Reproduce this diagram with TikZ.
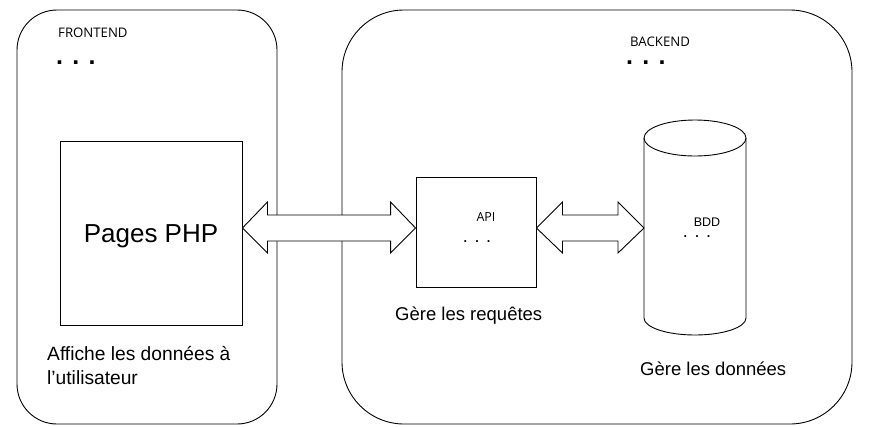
\documentclass[tikz,border=0pt]{standalone}
\usepackage{fontspec}
\setmainfont{Liberation Sans}
\newfontfamily\osans{Open Sans}
\usetikzlibrary{calc}
\tikzset{
  ln/.style={line width=0.9pt, draw=black},
  zone/.style={ln, fill=white},
  boxx/.style={ln, rectangle, inner sep=0pt},
  lbl/.style={anchor=west, inner sep=0pt, font=\fontsize{18.5}{24}\selectfont, align=left},
  small/.style={inner sep=0pt, font=\osans\fontsize{13.2}{14}\selectfont},
  bigdots/.style={anchor=west, inner sep=0pt, text height=4pt, text depth=0pt, font=\bfseries\fontsize{25}{25}\selectfont},
  smalldots/.style={inner sep=0pt, text height=3pt, text depth=0pt, font=\fontsize{18}{18}\selectfont},
}
\begin{document}
\begin{tikzpicture}[x=1pt,y=-1pt]
\useasboundingbox[fill=white] (0,0) rectangle (870,426);
% zones
\draw[zone, rounded corners=40pt] (17,10) rectangle (277,424);
\draw[zone, rounded corners=62pt] (342,10) rectangle (852,424);
\node[small, anchor=west] (fe) at (58,33) {FRONTEND};
\node[bigdots] (fedots) at (56,62) {. . .};
\node[small, anchor=west] (be) at (630,42) {BACKEND};
\node[bigdots] (bedots) at (626,62) {. . .};
% boxes
\node[boxx, minimum width=182pt, minimum height=184pt] (php) at (151,233) {};
\node[inner sep=0pt, font=\fontsize{26}{26}\selectfont] (phpt) at (151,236) {Pages PHP};
\node[boxx, minimum width=120pt, minimum height=110pt] (api) at (476,232) {};
\node[small, font=\osans\fontsize{12.5}{13}\selectfont] (apit) at (486,217) {API};
\node[smalldots] (apidots) at (477,240.5) {. . .};
% cylinder
\coordinate (bdd) at (644,228);
\draw[ln, fill=white] (644,138) -- (644,318) arc[start angle=180, end angle=360, x radius=51pt, y radius=17pt] -- (746,138);
\draw[ln] (695,138) ellipse [x radius=51pt, y radius=18pt];
\node[inner sep=0pt, font=\fontsize{12.5}{12.5}\selectfont] (bddt) at (707,222) {BDD};
\node[smalldots] (bdddots) at (697,235.5) {. . .};
% double arrows
\draw[ln, fill=white, line join=miter] let \p1=(php.east), \p2=(api.west) in
  (\x1,228) -- (\x1+25,202) -- (\x1+25,215) -- (\x2-25,215) -- (\x2-25,202) -- (\x2,228)
  -- (\x2-25,253) -- (\x2-25,241) -- (\x1+25,241) -- (\x1+25,253) -- cycle;
\draw[ln, fill=white, line join=miter] let \p1=(api.east), \p2=(bdd) in
  (\x1,228) -- (\x1+26,202) -- (\x1+26,215) -- (\x2-26,215) -- (\x2-26,202) -- (\x2,228)
  -- (\x2-26,253) -- (\x2-26,241) -- (\x1+26,241) -- (\x1+26,253) -- cycle;
% labels
\node[lbl] (req) at (395,316) {Gère les requêtes};
\node[lbl, anchor=north west, font=\fontsize{19.2}{24}\selectfont] (aff) at (47,346) {Affiche les données à\\l’utilisateur};
\node[lbl] (don) at (640,369) {Gère les données};
\end{tikzpicture}
\end{document}
